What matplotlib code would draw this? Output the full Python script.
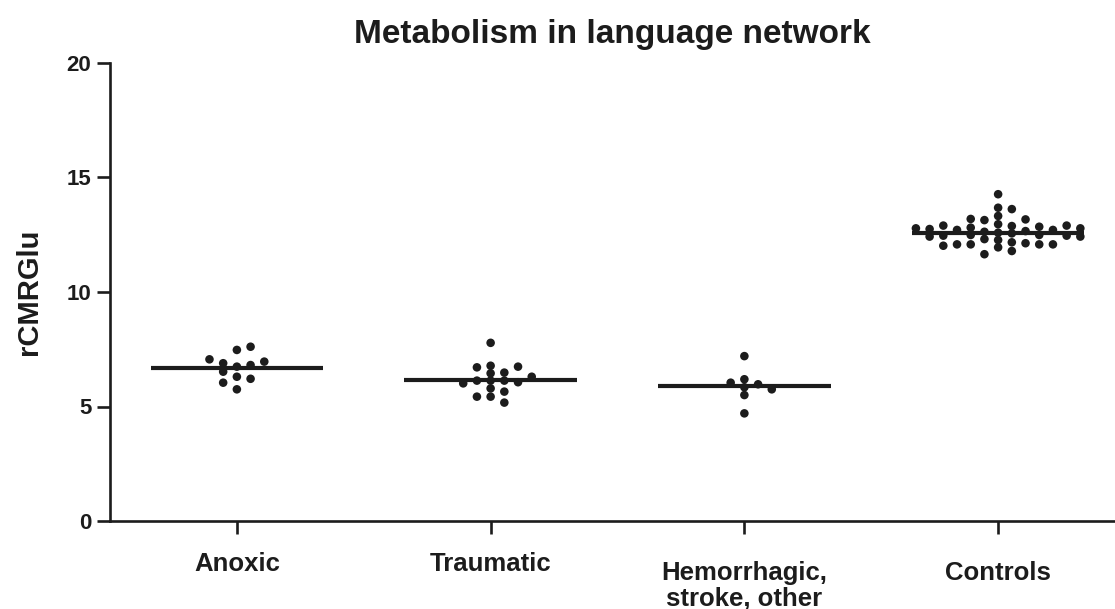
import matplotlib
matplotlib.use("Agg")
import matplotlib.pyplot as plt
import matplotlib.transforms as mtransforms
import numpy as np

categories = ["Anoxic", "Traumatic", "Hemorrhagic,\nstroke, other", "Controls"]

anoxic = [7.06, 6.89, 6.74, 6.21, 7.47, 6.52, 5.75, 7.61, 6.81, 6.04, 6.96, 6.30]
traumatic = [6.13, 6.13, 6.78, 6.71, 6.01, 5.43, 7.78, 6.45, 5.79, 5.17,
             6.48, 6.06, 5.43, 6.74, 6.13, 5.65, 6.30]
hemorrhagic = [5.97, 5.75, 7.20, 6.19, 5.50, 4.70, 5.84, 6.04]
controls = [12.59, 12.81, 12.49, 12.08, 13.19, 12.78, 12.46, 12.08, 13.14, 12.71,
            12.42, 12.08, 13.68, 12.90, 12.63, 12.31, 11.95, 14.27, 13.62, 12.88,
            12.27, 11.65, 12.78, 12.90, 12.42, 11.79, 12.71, 12.96, 12.46, 12.02,
            12.75, 13.17, 12.49, 12.08, 12.85, 13.32, 12.56, 12.13, 12.66, 12.17]
medians = [6.70, 6.15, 5.90, 12.59]

groups = [anoxic, traumatic, hemorrhagic, controls]
yticks = [0, 5, 10, 15, 20]

INK = "#1c1c1c"
plt.rcParams['font.family'] = ['Liberation Sans', 'DejaVu Sans']
plt.rcParams['font.weight'] = 'bold'

fig = plt.figure(figsize=(11.15, 6.09), dpi=100)
ax = fig.add_axes([110 / 1115, 88 / 609, 1015 / 1115, 458 / 609])


def swarm_offsets(vals, med, step, thresh):
    vals = np.asarray(vals, dtype=float)
    order = np.argsort(np.abs(vals - med), kind="stable")
    cols = {}
    offs = np.zeros(len(vals))
    seq = [0]
    for k in range(1, 30):
        seq += [k, -k]
    for i in order:
        v = vals[i]
        for c in seq:
            if all(abs(v - u) >= thresh for u in cols.get(c, [])):
                cols.setdefault(c, []).append(v)
                offs[i] = c * step
                break
    return offs


for i, (vals, med) in enumerate(zip(groups, medians)):
    offs = swarm_offsets(vals, med, 0.054, 0.32)
    ax.scatter(i + offs, vals, s=38, color=INK, edgecolors='none', zorder=3)
    ax.plot([i - 0.34, i + 0.34], [med, med], color=INK, lw=3.0,
            solid_capstyle='butt', zorder=4)

ax.set_xlim(-0.5, 3.5)
ax.set_ylim(0, 20)
ax.set_yticks(yticks)
ax.set_xticks(range(len(categories)))
ax.set_xticklabels(categories, fontsize=18.5, fontweight='bold', color=INK,
                   linespacing=1.1)
ax.set_yticklabels([str(t) for t in yticks], fontsize=16, fontweight='bold', color=INK)
for sp in ['top', 'right']:
    ax.spines[sp].set_visible(False)
for sp in ['left', 'bottom']:
    ax.spines[sp].set_linewidth(1.9)
    ax.spines[sp].set_color(INK)
    ax.spines[sp].set_capstyle('projecting')
ax.tick_params(axis='both', direction='out', length=9.5, width=1.9, color=INK)
ax.tick_params(axis='x', pad=13)
ax.tick_params(axis='y', pad=4)

# last two category labels sit slightly lower in the reference
for lab in ax.get_xticklabels()[2:]:
    lab.set_transform(lab.get_transform() +
                      mtransforms.ScaledTranslation(0, -9 / 100, fig.dpi_scale_trans))

ax.set_ylabel("rCMRGlu", fontsize=21, fontweight='bold', color=INK, labelpad=17)
fig.text(612 / 1115, 1 - 34 / 609, "Metabolism in language network", fontsize=24,
         fontweight='bold', color=INK, ha='center', va='center')

fig.savefig("out.png", dpi=100)
